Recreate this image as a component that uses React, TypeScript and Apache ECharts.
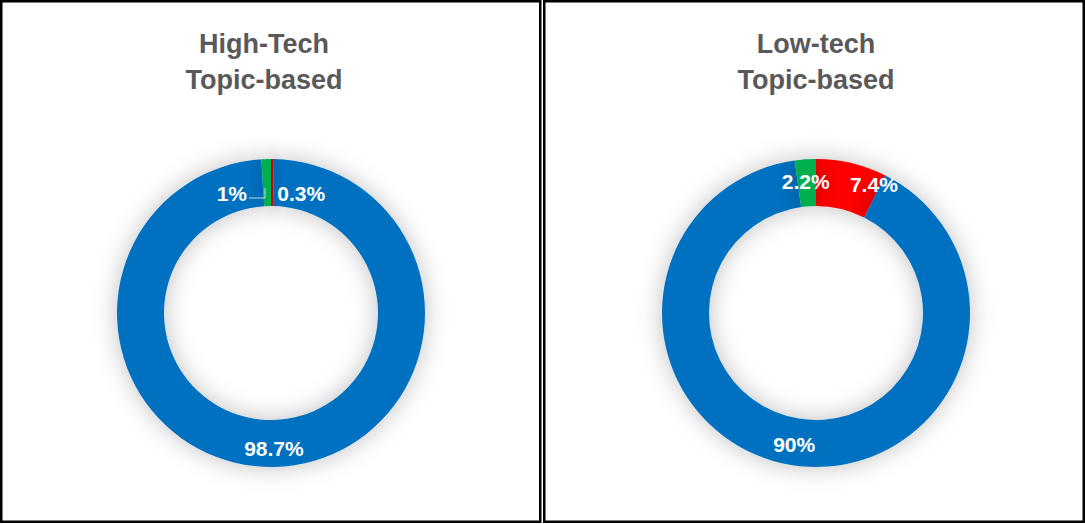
import React, { useEffect, useRef } from "react";
import * as echarts from "echarts";

const categories = ["Segment A", "Segment B", "Segment C"];
const segmentColors = ["#FF0000", "#0070C0", "#00B050"];
const highTechValues = [0.3, 98.7, 1];
const lowTechValues = [7.4, 90, 2.2];
const chartTitles = ["High-Tech\nTopic-based", "Low-tech\nTopic-based"];

// label offsets (dx, dy) per slice to mimic the reference label placement
const highTechLabelShift = [
  [29, 14],
  [0, 2],
  [-35, 14],
];
const lowTechLabelShift = [
  [27, 1],
  [0, 0],
  [-1, 2],
];

function buildSeries(values: number[], center: [number, number], shifts: number[][]) {
  return {
    type: "pie",
    center,
    radius: [107, 154],
    startAngle: 90,
    clockwise: true,
    avoidLabelOverlap: false,
    silent: true,
    data: values.map((v, i) => ({
      name: categories[i],
      value: v,
      itemStyle: { color: segmentColors[i] },
    })),
    itemStyle: {
      shadowBlur: 24,
      shadowColor: "rgba(0,0,0,0.25)",
    },
    label: {
      show: true,
      position: "inside",
      formatter: "{c}%",
      color: "#ffffff",
      fontWeight: "bold",
      fontSize: 21,
      fontFamily: "Liberation Sans, Arial, sans-serif",
    },
    labelLine: { show: false },
    labelLayout: (p: any) => {
      const s = shifts[p.dataIndex] || [0, 0];
      return { dx: s[0], dy: s[1] };
    },
  };
}

const titleStyle = {
  color: "#595959",
  fontSize: 27,
  fontWeight: "bold",
  fontFamily: "Liberation Sans, Arial, sans-serif",
  lineHeight: 36,
};

export default function App() {
  const ref = useRef<HTMLDivElement>(null);
  useEffect(() => {
    if (!ref.current) return;
    const chart = echarts.init(ref.current, null, { renderer: "svg" });
    chart.setOption({
      animation: false,
      backgroundColor: "#ffffff",
      title: [
        {
          text: chartTitles[0],
          left: 264,
          top: 26,
          padding: 0,
          textAlign: "center",
          textStyle: titleStyle,
        },
        {
          text: chartTitles[1],
          left: 816,
          top: 26,
          padding: 0,
          textAlign: "center",
          textStyle: titleStyle,
        },
      ],
      graphic: [
        {
          type: "rect",
          shape: { x: 1.25, y: 1.25, width: 539, height: 520.5 },
          style: { fill: "none", stroke: "#000000", lineWidth: 2.5 },
          z: 10,
        },
        {
          type: "rect",
          shape: { x: 544.25, y: 1.25, width: 539.5, height: 520.5 },
          style: { fill: "none", stroke: "#000000", lineWidth: 2.5 },
          z: 10,
        },
        {
          type: "polyline",
          shape: { points: [[249, 198], [265, 198], [265, 188]] },
          style: { stroke: "#c8d8e8", lineWidth: 1, fill: "none" },
          z: 20,
        },
      ],
      series: [
        buildSeries(highTechValues, [271, 313], highTechLabelShift),
        buildSeries(lowTechValues, [816, 313], lowTechLabelShift),
      ],
    });
    return () => chart.dispose();
  }, []);
  return (
    <div
      ref={ref}
      style={{ position: "fixed", left: 0, top: 0, width: 1085, height: 524 }}
    />
  );
}
